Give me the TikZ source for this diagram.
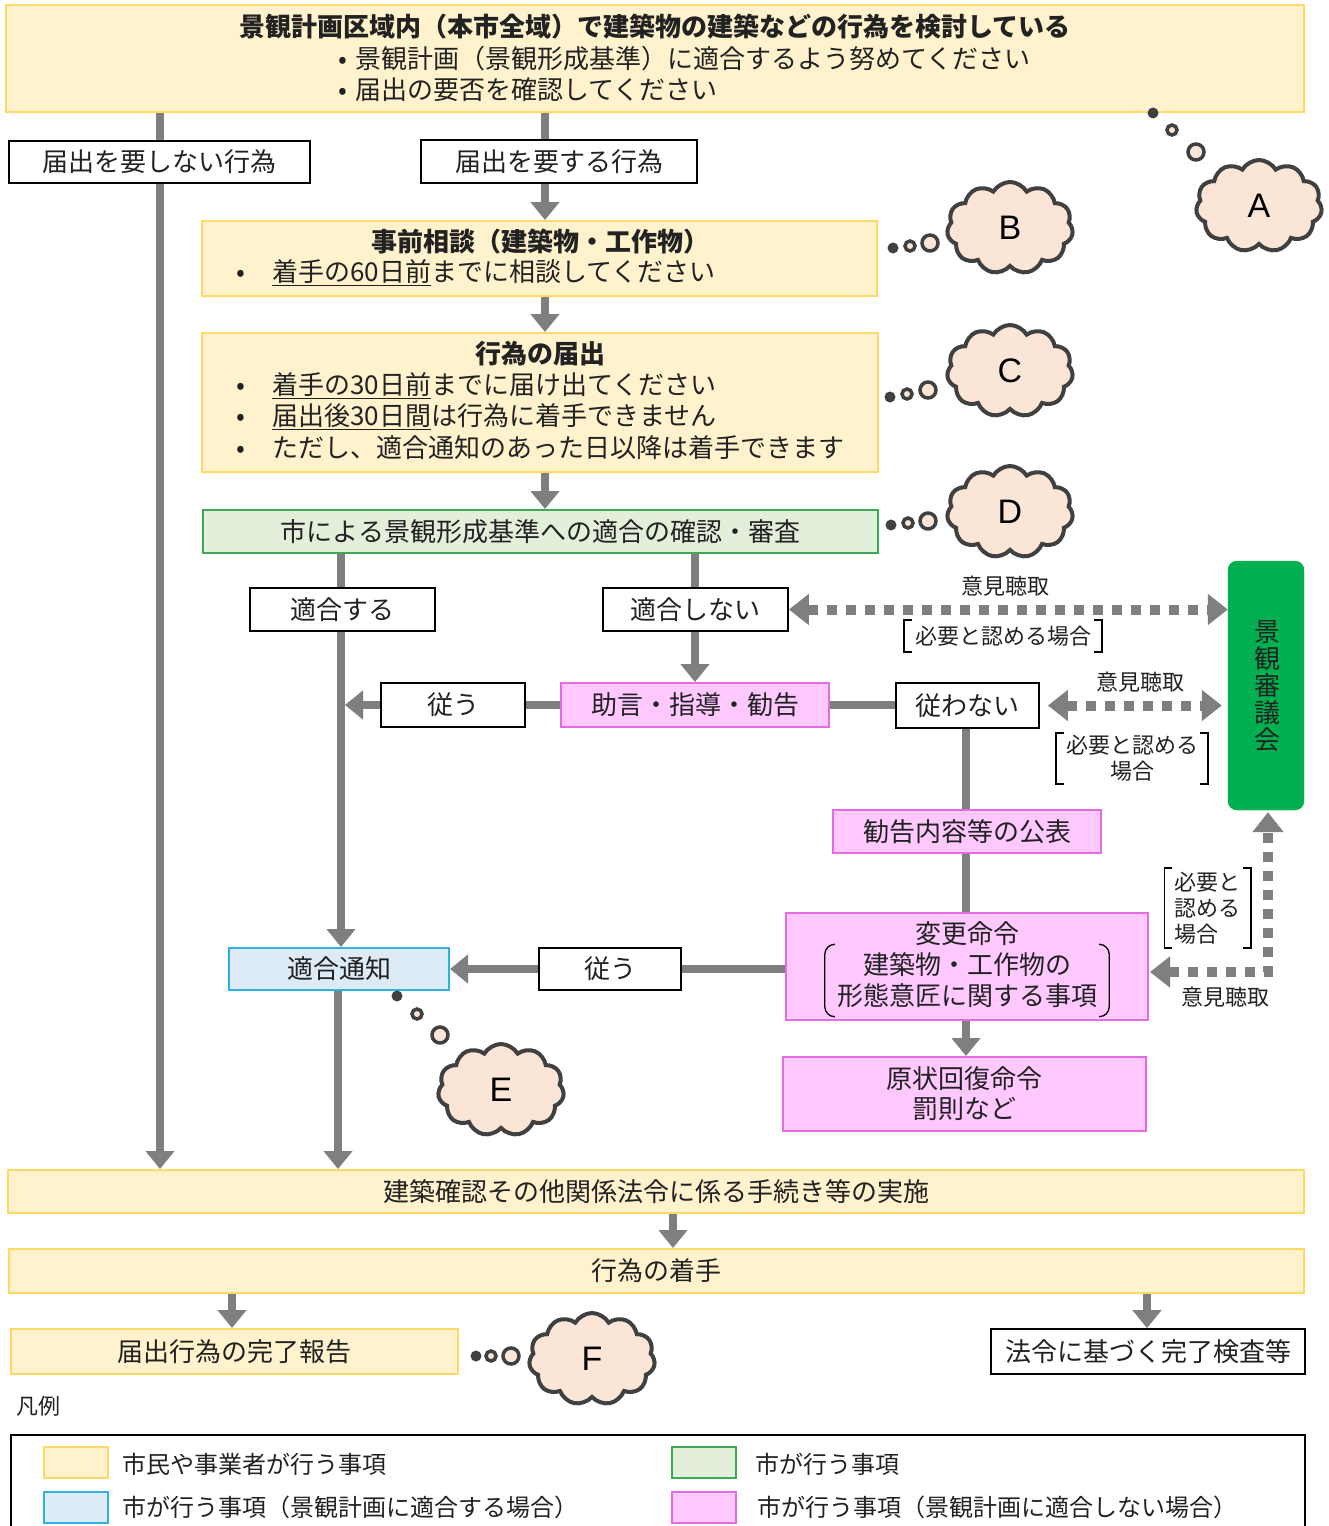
\documentclass[tikz,border=0pt]{standalone}
\usepackage{fontspec}
\setmainfont{Noto Sans CJK JP}
\newfontfamily\latinfont{Liberation Sans}
\usetikzlibrary{arrows.meta,shapes.symbols,calc}
\pgfdeclarelayer{bg}
\pgfsetlayers{bg,main}
\definecolor{yfill}{HTML}{FFF2CC}
\definecolor{ybd}{HTML}{FFD966}
\definecolor{gfill}{HTML}{E2EFDA}
\definecolor{gbd}{HTML}{3DAA55}
\definecolor{bfill}{HTML}{DDEBF7}
\definecolor{bbd}{HTML}{2DB3E0}
\definecolor{pfill}{HTML}{FFC8FF}
\definecolor{pbd}{HTML}{E46BE4}
\definecolor{council}{HTML}{00B050}
\definecolor{cfill}{HTML}{FBE5D6}
\definecolor{cbd}{HTML}{404040}
\definecolor{gline}{HTML}{7F7F7F}
\definecolor{tcol}{HTML}{222222}
\newcommand\fsz[2]{\fontsize{#1pt}{#2pt}\selectfont}
\newcommand\thought[6]{%
  \fill[cbd] (#1,#2) circle (5.5pt);
  \draw[cbd, fill=cfill, line width=3.5pt] (#3,#4) circle (5pt);
  \draw[cbd, fill=cfill, line width=3.5pt] (#5,#6) circle (8pt);}
\tikzset{
  txt/.style={inner sep=0pt, font=\fsz{26}{31}, text=tcol},
  smalltxt/.style={inner sep=0pt, font=\fsz{22}{26}, text=tcol},
  boxbase/.style={inner sep=0pt, font=\fsz{26}{31}, text=tcol},
  ybox/.style={boxbase, draw=ybd, fill=yfill, line width=2pt},
  wbox/.style={boxbase, draw=black, fill=white, line width=1.8pt},
  gbox/.style={boxbase, draw=gbd, fill=gfill, line width=2pt},
  bbox/.style={boxbase, draw=bbd, fill=bfill, line width=2pt},
  pbox/.style={boxbase, draw=pbd, fill=pfill, line width=2pt},
  arr/.style={draw=gline, line width=8pt, -{Triangle[width=28pt,length=18pt]}},
  conn/.style={draw=gline, line width=8pt},
  dotarr/.style={draw=gline, line width=10pt, dash pattern=on 10pt off 9pt,
     {Triangle[width=30pt,length=20pt]}-{Triangle[width=30pt,length=20pt]}},
  cloudy/.style={cloud, cloud puffs=11, cloud puff arc=120, cloud ignores aspect,
     draw=cbd, fill=cfill, line width=4pt, minimum width=126pt, minimum height=92pt,
     inner sep=0pt, text=black, font=\latinfont\fsz{34}{40}},
  brk/.style={draw=black, line width=1.6pt},
}
\begin{document}
\begin{tikzpicture}[x=1pt,y=-1pt]
\useasboundingbox (0,0) rectangle (1328,1526);
\begin{pgfonlayer}{bg}
\fill[white] (0,0) rectangle (1328,1526);
\end{pgfonlayer}

% helper coordinates for connector x positions
\coordinate (c160) at (160,0);
\coordinate (c545) at (545,0);
\coordinate (c341) at (341,0);
\coordinate (c695) at (695,0);
\coordinate (c966) at (966,0);
\coordinate (c338) at (338,0);
\coordinate (c673) at (673,0);
\coordinate (c232) at (232,0);
\coordinate (c1147) at (1147,0);
\coordinate (j1) at (345,705);
\coordinate (c18) at (1268,972);

% top box
\node[ybox, minimum width=1298pt, minimum height=107pt] (top) at (655,58.5) {};
\node[txt] (t0) at (655,27) {\bfseries 景観計画区域内（本市全域）で建築物の建築などの行為を検討している};
\node[txt, anchor=west] (t1) at (338,59) {•\hspace{8pt}景観計画（景観形成基準）に適合するよう努めてください};
\node[txt, anchor=west] (t2) at (338,90) {•\hspace{8pt}届出の要否を確認してください};

\node[wbox, minimum width=301pt, minimum height=42pt] (nofile) at (159.5,162) {届出を要しない行為};
\node[wbox, minimum width=276pt, minimum height=43pt] (file) at (559,161.5) {届出を要する行為};

% pre-consultation
\node[ybox, minimum width=675pt, minimum height=75pt] (pre) at (539.5,258.5) {};
\node[txt] (pre1) at (540,242) {\bfseries 事前相談（建築物・工作物）};
\node[txt, anchor=west] (pre2) at (236,273) {\makebox[36pt][l]{•}\underline{着手の60日前}までに相談してください};

% notification
\node[ybox, minimum width=676pt, minimum height=139pt] (todoke) at (540,402.5) {};
\node[txt] (td0) at (540,354) {\bfseries 行為の届出};
\node[txt, anchor=west] (td1) at (236,386) {\makebox[36pt][l]{•}\underline{着手の30日前}までに届け出てください};
\node[txt, anchor=west] (td2) at (236,417) {\makebox[36pt][l]{•}\underline{届出後30日間}は行為に着手できません};
\node[txt, anchor=west] (td3) at (236,448) {\makebox[36pt][l]{•}ただし、適合通知のあった日以降は着手できます};

% check
\node[gbox, minimum width=675pt, minimum height=43pt] (check) at (540.5,531.5) {市による景観形成基準への適合の確認・審査};

\node[wbox, minimum width=185pt, minimum height=43pt] (ok) at (342.5,609.5) {適合する};
\node[wbox, minimum width=185pt, minimum height=43pt] (ng) at (695.5,609.5) {適合しない};

% council
\node[draw=council, fill=council, rounded corners=9pt, minimum width=76pt, minimum height=249pt, inner sep=0pt] (council) at (1266,685.5) {};
\node[inner sep=0pt, align=center, font=\fsz{26}{27}, text=tcol] (ctext) at (1267,686) {景\\観\\審\\議\\会};

\node[pbox, minimum width=268pt, minimum height=44pt] (advice) at (695,705) {助言・指導・勧告};
\node[wbox, minimum width=144pt, minimum height=44pt] (fol1) at (453,705) {従う};
\node[wbox, minimum width=143pt, minimum height=45pt] (nfol) at (967.5,705.5) {従わない};

\node[pbox, minimum width=268pt, minimum height=43pt] (pub) at (967,831.5) {勧告内容等の公表};
\node[pbox, minimum width=362pt, minimum height=107pt] (order) at (967,966.5) {};
\node[txt] (o1) at (967,934) {変更命令};
\node[txt, align=center, inner xsep=12pt, minimum height=72pt] (o23) at (967,980.5) {建築物・工作物の\\形態意匠に関する事項};
\draw[brk, line width=1.3pt, rounded corners=10pt] ([xshift=9pt]o23.north west) -- (o23.north west) -- (o23.south west) -- ([xshift=9pt]o23.south west);
\draw[brk, line width=1.3pt, rounded corners=10pt] ([xshift=-9pt]o23.north east) -- (o23.north east) -- (o23.south east) -- ([xshift=-9pt]o23.south east);

\node[pbox, minimum width=363pt, minimum height=74pt, align=center, font=\fsz{26}{30}] (restore) at (964.5,1094) {原状回復命令\\罰則など};

\node[wbox, minimum width=142pt, minimum height=42pt] (fol2) at (610,969) {従う};
\node[bbox, minimum width=220pt, minimum height=42pt] (notice) at (339,969) {適合通知};

% bottom
\node[ybox, minimum width=1296pt, minimum height=43pt] (kakunin) at (656,1191.5) {建築確認その他関係法令に係る手続き等の実施};
\node[ybox, minimum width=1295pt, minimum height=44pt] (chaku) at (656.5,1271) {行為の着手};
\node[ybox, minimum width=447pt, minimum height=45pt] (report) at (234.5,1351.5) {届出行為の完了報告};
\node[wbox, minimum width=314pt, minimum height=45pt] (inspect) at (1148,1351.5) {法令に基づく完了検査等};

% labels
\node[smalltxt] (lab1) at (1005,586) {意見聴取};
\node[smalltxt, inner xsep=11pt, minimum height=32pt] (br1) at (1003,636) {必要と認める場合};
\draw[brk] ([xshift=8pt]br1.north west) -- (br1.north west) -- (br1.south west) -- ([xshift=8pt]br1.south west);
\draw[brk] ([xshift=-8pt]br1.north east) -- (br1.north east) -- (br1.south east) -- ([xshift=-8pt]br1.south east);

\node[smalltxt] (lab2) at (1140,682) {意見聴取};
\node[smalltxt, align=center, inner xsep=10pt, minimum height=51pt] (br2) at (1132,758.5) {必要と認める\\場合};
\draw[brk] ([xshift=8pt]br2.north west) -- (br2.north west) -- (br2.south west) -- ([xshift=8pt]br2.south west);
\draw[brk] ([xshift=-8pt]br2.north east) -- (br2.north east) -- (br2.south east) -- ([xshift=-8pt]br2.south east);

\node[smalltxt] (lab3) at (1225,997) {意見聴取};
\node[smalltxt, align=left, inner xsep=10pt, minimum height=80pt] (br3) at (1207.5,908) {必要と\\認める\\場合};
\draw[brk] ([xshift=8pt]br3.north west) -- (br3.north west) -- (br3.south west) -- ([xshift=8pt]br3.south west);
\draw[brk] ([xshift=-8pt]br3.north east) -- (br3.north east) -- (br3.south east) -- ([xshift=-8pt]br3.south east);

% clouds
\node[cloudy] (cA) at (1259,206) {A};
\node[cloudy] (cB) at (1010,228) {B};
\node[cloudy] (cC) at (1010,371) {C};
\node[cloudy] (cD) at (1010,512) {D};
\node[cloudy] (cE) at (501,1090) {E};
\node[cloudy] (cF) at (592,1359) {F};
\thought{1153}{113}{1172}{130}{1196}{152}
\thought{893}{248}{910}{246}{930}{243}
\thought{890}{397}{907}{394}{928}{390}
\thought{891}{525}{908}{523}{928}{521}
\thought{397}{996}{417}{1014}{440}{1035}
\thought{476}{1356}{491}{1356}{511}{1356}

% legend
\node[inner sep=0pt, anchor=west, font=\fsz{22}{26}, text=tcol] (hanrei) at (16,1406) {凡例};
\draw[black, line width=1.8pt] (11,1435) rectangle (1305,1545);
\node[ybox, minimum width=64pt, minimum height=31pt] (lg1) at (76,1462.5) {};
\node[bbox, minimum width=64pt, minimum height=31pt] (lg2) at (76,1507) {};
\node[gbox, minimum width=64pt, minimum height=31pt] (lg3) at (703.5,1462.5) {};
\node[pbox, minimum width=64pt, minimum height=31pt] (lg4) at (703.5,1507) {};
\node[inner sep=0pt, anchor=west, font=\fsz{24}{28}, text=tcol] (lt1) at (122,1464) {市民や事業者が行う事項};
\node[inner sep=0pt, anchor=west, font=\fsz{24}{28}, text=tcol] (lt2) at (122,1507) {市が行う事項（景観計画に適合する場合）};
\node[inner sep=0pt, anchor=west, font=\fsz{24}{28}, text=tcol] (lt3) at (755,1464) {市が行う事項};
\node[inner sep=0pt, anchor=west, font=\fsz{24}{28}, text=tcol] (lt4) at (757,1507) {市が行う事項（景観計画に適合しない場合）};

% connectors
\begin{pgfonlayer}{bg}
\draw[arr] (top.south -| c160) -- (kakunin.north -| c160);
\draw[arr] (top.south -| c545) -- (pre.north -| c545);
\draw[arr] (pre.south -| c545) -- (todoke.north -| c545);
\draw[arr] (todoke.south -| c545) -- (check.north -| c545);
\draw[arr] (check.south -| c341) -- (notice.north -| c341);
\draw[arr] (check.south -| c695) -- (advice.north -| c695);
\draw[conn] (advice.west) -- (fol1.east);
\draw[arr] (fol1.west) -- (j1);
\draw[conn] (advice.east) -- (nfol.west |- advice.east);
\draw[conn] (nfol.south -| c966) -- (pub.north -| c966);
\draw[conn] (pub.south -| c966) -- (order.north -| c966);
\draw[arr] (order.south -| c966) -- (restore.north -| c966);
\draw[conn] (order.west |- fol2.east) -- (fol2.east);
\draw[arr] (fol2.west) -- (notice.east);
\draw[arr] (notice.south -| c338) -- (kakunin.north -| c338);
\draw[arr] (kakunin.south -| c673) -- (chaku.north -| c673);
\draw[arr] (chaku.south -| c232) -- (report.north -| c232);
\draw[arr] (chaku.south -| c1147) -- (inspect.north -| c1147);
\draw[dotarr] (ng.east) -- (council.west |- ng.east);
\draw[dotarr, shorten <=8pt, shorten >=6pt] (nfol.east) -- (council.west |- nfol.east);
\draw[dotarr, shorten <=1pt, shorten >=2pt] (order.east |- c18) -- (c18) -- (council.south -| c18);
\end{pgfonlayer}
\end{tikzpicture}
\end{document}
